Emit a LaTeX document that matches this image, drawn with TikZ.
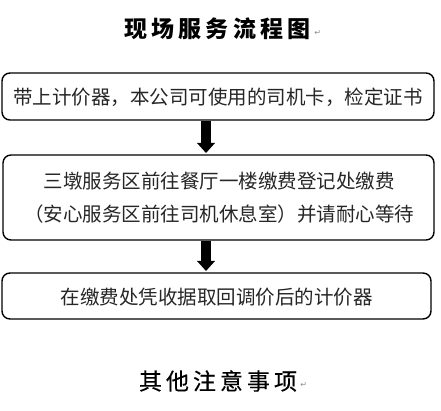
\documentclass[tikz,border=0pt]{standalone}
\usepackage{fontspec}
\newfontfamily\cjk{Noto Sans CJK SC}
\newfontfamily\cjkmid[FakeBold=0.3]{Noto Sans CJK SC}
\newfontfamily\symf{DejaVu Sans}
\usetikzlibrary{arrows.meta}
\newcommand{\gapx}[1]{\hspace{#1}}
\tikzset{
  flowbox/.style={draw=black, line width=1.4pt, rounded corners=8pt, inner sep=0pt},
  boxtext/.style={font=\cjk\fontsize{19.5pt}{33pt}\selectfont, text=black!85, align=center},
  bigarrow/.style={line width=9.5pt, -{Triangle[width=18pt,length=10pt,line width=0pt]}, shorten >=2pt},
  retmark/.style={font=\symf\fontsize{8pt}{8pt}\selectfont, text=black!45, inner sep=0pt}
}
\begin{document}
\begin{tikzpicture}[x=1pt,y=-1pt]
\useasboundingbox[fill=white] (0,0) rectangle (441,411);
% title
\node[font=\cjk\bfseries\fontsize{23pt}{23pt}\selectfont, inner sep=0pt] (title) at (217.5,29)
  {现\gapx{4.3pt}场\gapx{4.3pt}服\gapx{4.3pt}务\gapx{4.3pt}流\gapx{4.3pt}程\gapx{4.3pt}图};
\node[retmark, anchor=west] (rm1) at ([xshift=3pt,yshift=-4pt]title.east) {↵};
% boxes
\draw[flowbox] (2,73) rectangle (434,120);
\coordinate (b1s) at (206,121);
\node[boxtext] (t1) at (218,97) {带上计价器，本公司可使用的司机卡，检定证书};
\draw[flowbox] (3,155) rectangle (434,240);
\coordinate (b2n) at (206,155);
\coordinate (b2s) at (206,241);
\node[boxtext] (t2) at (219,197.5) {三墩服务区前往餐厅一楼缴费登记处缴费\\（安心服务区前往司机休息室）并请耐心等待};
\draw[flowbox] (2,273) rectangle (431,319);
\coordinate (b3n) at (206,273);
\node[boxtext] (t3) at (216.5,297) {在缴费处凭收据取回调价后的计价器};
% arrows
\draw[bigarrow] (b1s) -- (b2n);
\draw[bigarrow] (b2s) -- (b3n);
% bottom heading
\node[font=\cjkmid\fontsize{23pt}{23pt}\selectfont, inner sep=0pt] (note) at (218,381)
  {其\gapx{4pt}他\gapx{4pt}注\gapx{4pt}意\gapx{4pt}事\gapx{4pt}项};
\node[retmark, anchor=west] (rm2) at ([xshift=3pt,yshift=-4pt]note.east) {↵};
\end{tikzpicture}
\end{document}
